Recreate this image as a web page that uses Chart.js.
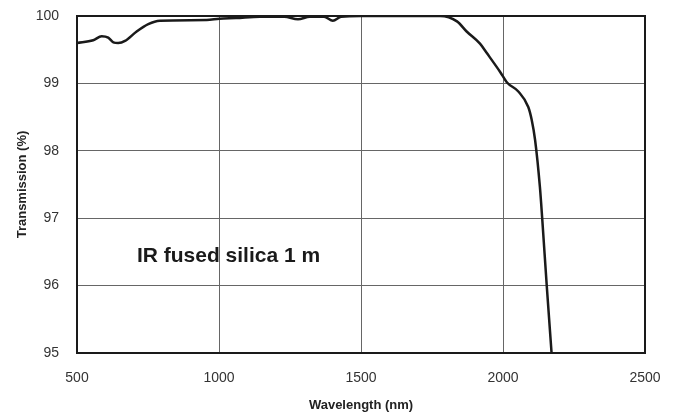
<!DOCTYPE html>
<html>
<head>
<meta charset="utf-8">
<script src="https://cdn.jsdelivr.net/npm/chart.js@4.4.1/dist/chart.umd.min.js"></script>
<style>
  html, body { margin: 0; padding: 0; background: #fff; }
  #wrap { width: 673px; height: 414px; }
</style>
</head>
<body>
<div id="wrap"><canvas id="grafico" width="673" height="414"></canvas></div>
<script>
// valores
const longitudes = [500, 557, 587, 610, 628, 645, 669, 710, 751, 792, 957, 1001, 1060, 1144, 1230, 1278, 1320, 1370, 1401, 1430, 1500, 1778, 1838, 1872, 1919, 1943, 1990, 2015, 2054, 2089, 2101, 2113, 2130, 2138, 2154, 2171]
const transmision = [99.60, 99.64, 99.70, 99.68, 99.61, 99.60, 99.63, 99.77, 99.88, 99.93, 99.94, 99.96, 99.97, 99.99, 99.99, 99.95, 99.99, 99.99, 99.93, 99.99, 100, 100, 99.92, 99.77, 99.59, 99.45, 99.17, 99.01, 98.88, 98.65, 98.46, 98.16, 97.46, 97.0, 96.0, 95.0]
const ticksX = [500, 1000, 1500, 2000, 2500]
const ticksY = [95, 96, 97, 98, 99, 100]
const etiqueta = 'IR fused silica 1 m'
const posEtiqueta = [711, 96.44]

const fuente = "'Liberation Sans', Arial, sans-serif"

const marco = {
    id: 'marco',
    afterDraw(chart) {
        const { ctx, chartArea: a, scales } = chart
        ctx.save()
        ctx.strokeStyle = '#1a1a1a'
        ctx.lineWidth = 2
        ctx.strokeRect(a.left, a.top, a.right - a.left, a.bottom - a.top)
        ctx.fillStyle = '#1a1a1a'
        ctx.font = 'bold 21px ' + fuente
        ctx.textBaseline = 'middle'
        ctx.fillText(etiqueta, scales.x.getPixelForValue(posEtiqueta[0]), scales.y.getPixelForValue(posEtiqueta[1]))
        ctx.restore()
    }
}

new Chart(document.getElementById('grafico'), {
    type: 'line',
    data: {
        datasets: [{
            data: longitudes.map((x, i) => ({ x: x, y: transmision[i] })),
            borderColor: '#1a1a1a',
            borderWidth: 2.5,
            pointRadius: 0,
            cubicInterpolationMode: 'monotone',
            fill: false
        }]
    },
    options: {
        responsive: false,
        animation: false,
        layout: { padding: { top: 16, right: 28, left: 0, bottom: 0 } },
        plugins: { legend: { display: false }, tooltip: { enabled: false } },
        scales: {
            x: {
                type: 'linear',
                min: 500, max: 2500,
                afterBuildTicks: s => { s.ticks = ticksX.map(v => ({ value: v })) },
                afterFit: s => { s.height = 61; s.paddingLeft = 0; s.paddingRight = 0 },
                grid: { color: '#666', lineWidth: 1, drawTicks: false },
                border: { display: false },
                ticks: { color: '#333', padding: 17, font: { family: fuente, size: 14 }, callback: v => String(v) },
                title: { display: true, text: 'Wavelength (nm)', color: '#222', padding: { top: 0, bottom: 1 }, font: { family: fuente, size: 13, weight: 'bold' } }
            },
            y: {
                min: 95, max: 100,
                afterBuildTicks: s => { s.ticks = ticksY.map(v => ({ value: v })) },
                afterFit: s => { s.width = 77; s.paddingTop = 0; s.paddingBottom = 0 },
                grid: { color: '#666', lineWidth: 1, drawTicks: false },
                border: { display: false },
                ticks: { color: '#333', padding: 18, font: { family: fuente, size: 14 }, callback: v => String(v) },
                title: { display: true, text: 'Transmission (%)', color: '#222', padding: { top: 15, bottom: 0 }, font: { family: fuente, size: 13, weight: 'bold' } }
            }
        }
    },
    plugins: [marco]
})
</script>
</body>
</html>
